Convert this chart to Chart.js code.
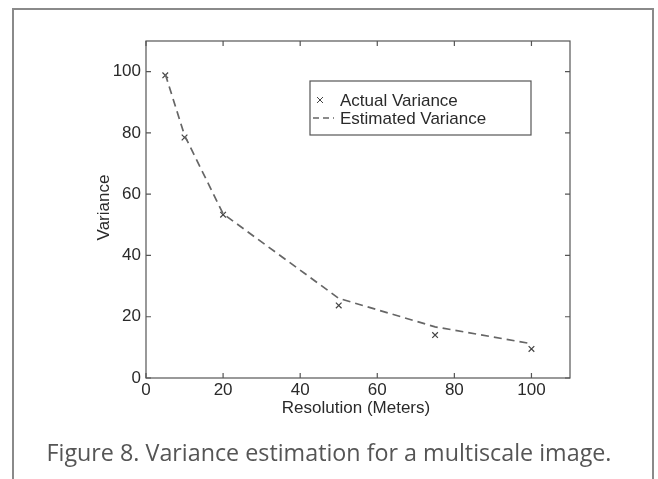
<!DOCTYPE html>
<html>
<head>
<meta charset="utf-8">
<script src="https://cdn.jsdelivr.net/npm/chart.js@4"></script>
<style>
  html, body { margin: 0; padding: 0; background: #fff; }
  #wrap { position: relative; width: 658px; height: 479px; overflow: hidden; }
  #frame { position: absolute; left: 12px; top: 8px; width: 638px; height: 480px;
           border: 2px solid #8a8a8a; border-bottom: none; }
  #caption { position: absolute; left: 0; width: 658px; top: 436px; text-align: center;
             font: 23.3px "Open Sans", sans-serif; color: #555; }
  canvas { position: absolute; left: 0; top: 0; }
</style>
</head>
<body>
<div id="wrap">
  <div id="frame"></div>
  <canvas id="chart" width="658" height="479"></canvas>
  <div id="caption">Figure 8. Variance estimation for a multiscale image.</div>
</div>
<script>
// Variance vs resolution (multiscale image)
const resolution = [5, 10, 20, 50, 75, 100];
const actualVariance = [98.8, 78.5, 53.3, 23.7, 14.0, 9.5];
const estimatedVariance = [99.2, 79.2, 53.6, 26.0, 16.7, 11.2];
const xTitle = 'Resolution (Meters)';
const yTitle = 'Variance';
const seriesLabels = ['Actual Variance', 'Estimated Variance'];

const ink = '#2a2a2a';
const lineInk = '#666';
const font = '"Liberation Sans", Arial, sans-serif';

// MATLAB-style box with inward ticks on all four sides, plus axis titles
const boxTicks = {
  id: 'boxTicks',
  afterDraw(chart) {
    const { ctx, chartArea: a, scales } = chart;
    ctx.save();
    ctx.strokeStyle = '#555';
    ctx.lineWidth = 1.2;
    ctx.strokeRect(a.left, a.top, a.right - a.left, a.bottom - a.top);
    const len = 5;
    ctx.beginPath();
    scales.x.ticks.forEach(t => {
      const px = scales.x.getPixelForValue(t.value);
      ctx.moveTo(px, a.bottom); ctx.lineTo(px, a.bottom - len);
      ctx.moveTo(px, a.top); ctx.lineTo(px, a.top + len);
    });
    scales.y.ticks.forEach(t => {
      const py = scales.y.getPixelForValue(t.value);
      ctx.moveTo(a.left, py); ctx.lineTo(a.left + len, py);
      ctx.moveTo(a.right, py); ctx.lineTo(a.right - len, py);
    });
    ctx.stroke();

    ctx.fillStyle = ink;
    ctx.font = '17px ' + font;
    ctx.textAlign = 'center';
    ctx.textBaseline = 'middle';
    ctx.fillText(xTitle, (a.left + a.right) / 2 - 2, 408);
    ctx.translate(104, (a.top + a.bottom) / 2 - 2);
    ctx.rotate(-Math.PI / 2);
    ctx.fillText(yTitle, 0, 0);
    ctx.restore();
  }
};

// legend box inside the plot, upper right
const boxLegend = {
  id: 'boxLegend',
  afterDraw(chart) {
    const { ctx } = chart;
    const x0 = 310, y0 = 81, w = 221, h = 54;
    ctx.save();
    ctx.fillStyle = '#fff';
    ctx.fillRect(x0, y0, w, h);
    ctx.strokeStyle = '#555';
    ctx.lineWidth = 1.2;
    ctx.strokeRect(x0, y0, w, h);
    // cross marker
    const cx = 320, cy = 100, r = 3;
    ctx.strokeStyle = '#444';
    ctx.lineWidth = 1;
    ctx.beginPath();
    ctx.moveTo(cx - r, cy - r); ctx.lineTo(cx + r, cy + r);
    ctx.moveTo(cx - r, cy + r); ctx.lineTo(cx + r, cy - r);
    ctx.stroke();
    // dashed sample
    ctx.strokeStyle = lineInk;
    ctx.lineWidth = 1.6;
    ctx.setLineDash([6, 4]);
    ctx.beginPath();
    ctx.moveTo(313, 118); ctx.lineTo(334, 118);
    ctx.stroke();
    ctx.setLineDash([]);
    ctx.fillStyle = ink;
    ctx.font = '17px ' + font;
    ctx.textBaseline = 'middle';
    ctx.fillText(seriesLabels[0], 340, 101);
    ctx.fillText(seriesLabels[1], 340, 119);
    ctx.restore();
  }
};

new Chart(document.getElementById('chart'), {
  type: 'scatter',
  data: {
    datasets: [
      {
        label: seriesLabels[1],
        data: resolution.map((x, i) => ({ x, y: estimatedVariance[i] })),
        showLine: true,
        borderColor: lineInk,
        borderWidth: 1.7,
        borderDash: [8, 5],
        pointRadius: 0,
        fill: false
      },
      {
        label: seriesLabels[0],
        data: resolution.map((x, i) => ({ x, y: actualVariance[i] })),
        showLine: false,
        pointStyle: 'crossRot',
        pointRadius: 4,
        borderColor: '#444',
        borderWidth: 1.2
      }
    ]
  },
  options: {
    responsive: false,
    animation: false,
    events: [],
    layout: { padding: { left: 0, right: 88, top: 41, bottom: 0 } },
    scales: {
      x: {
        type: 'linear', min: 0, max: 110,
        grid: { display: false, tickLength: 0 },
        border: { display: false },
        ticks: { stepSize: 20, includeBounds: false, color: ink, padding: 2,
                 font: { family: font, size: 17 }, maxRotation: 0 },
        afterFit: s => { s.height = 101; }
      },
      y: {
        type: 'linear', min: 0, max: 110,
        grid: { display: false, tickLength: 0 },
        border: { display: false },
        ticks: { stepSize: 20, includeBounds: false, color: ink, padding: 5,
                 font: { family: font, size: 17 } },
        afterFit: s => { s.width = 146; }
      }
    },
    plugins: {
      legend: { display: false },
      tooltip: { enabled: false }
    }
  },
  plugins: [boxTicks, boxLegend]
});
</script>
</body>
</html>
